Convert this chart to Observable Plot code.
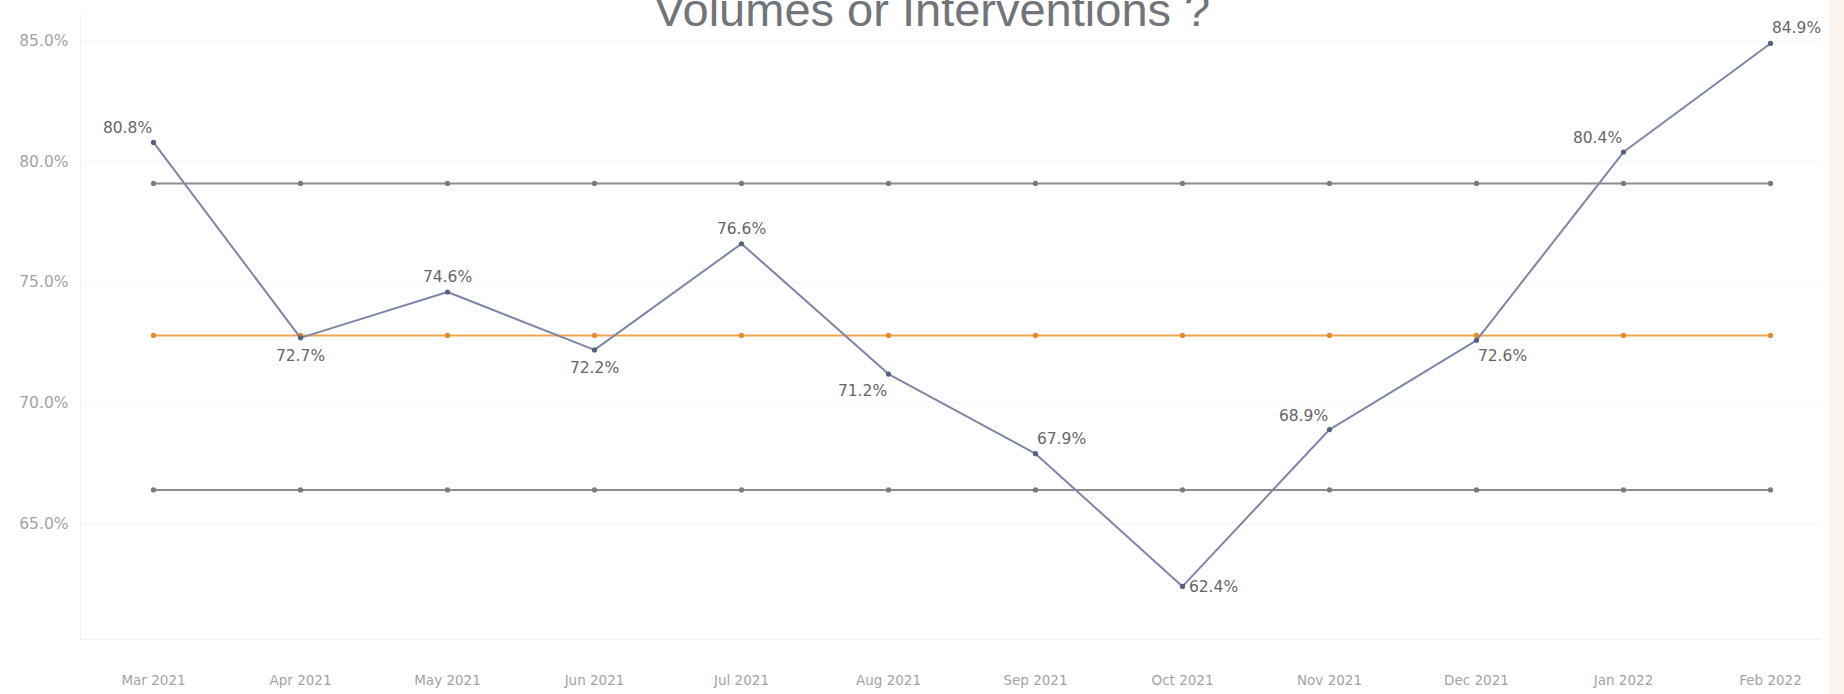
<!DOCTYPE html>
<html>
<head>
<meta charset="utf-8">
<script src="https://cdn.jsdelivr.net/npm/d3@7"></script>
<script src="https://cdn.jsdelivr.net/npm/@observablehq/plot@0.6"></script>
<style>
  html, body { margin: 0; padding: 0; background: #ffffff; overflow: hidden; }
  #wrap { position: relative; width: 1844px; height: 694px; }
  #title { position: absolute; top: -14px; left: 932px; transform: translateX(-50%); white-space: nowrap;
           font-family: "Liberation Sans", Arial, sans-serif; font-size: 47px; line-height: 1; color: #717478; }
  #strip { position: absolute; top: 0; right: 0; width: 15px; height: 694px; background: #fbf4ee; }
  #chart { position: absolute; top: 0; left: 0; }
</style>
</head>
<body>
<div id="wrap">
  <div id="chart"></div>
  <div id="title">Volumes or Interventions ?</div>
  <div id="strip"></div>
</div>
<script>
const months = ["Mar 2021","Apr 2021","May 2021","Jun 2021","Jul 2021","Aug 2021","Sep 2021","Oct 2021","Nov 2021","Dec 2021","Jan 2022","Feb 2022"];
const values = [80.8, 72.7, 74.6, 72.2, 76.6, 71.2, 67.9, 62.4, 68.9, 72.6, 80.4, 84.9];
const upperLimit = 79.1;
const meanLine = 72.8;
const lowerLimit = 66.4;
const yTicks = [65, 70, 75, 80, 85];
const labelPlacement = ["nw","s","n","s","n","sw","ne","e","nw","se","nw","ne"];

const offsets = {nw:[-26,-14], s:[0,18], n:[0,-15], sw:[-26,17], ne:[26,-15], e:[31,1], se:[26,16]};

const data = months.map((m, i) => ({month: m, value: values[i], place: labelPlacement[i]}));
const refs = [
  {v: upperLimit, color: "#8c8c8c", dot: "#7a7a7a"},
  {v: meanLine, color: "#f0a351", dot: "#e58a2e"},
  {v: lowerLimit, color: "#8c8c8c", dot: "#7a7a7a"}
];

const small = "'DejaVu Sans', Verdana, sans-serif";
const marks = [
  Plot.gridY(yTicks, {stroke: "#000", strokeOpacity: 0.035}),
  Plot.frame({stroke: "#000", strokeOpacity: 0.05, anchor: "left"}),
  Plot.frame({stroke: "#000", strokeOpacity: 0.05, anchor: "bottom"}),
  Plot.axisY(yTicks, {tickSize: 0, tickPadding: 12, tickFormat: d => d.toFixed(1) + "%", fontSize: 15.5, fill: "#a3a3a3", fontFamily: small}),
  Plot.axisX({tickSize: 0, tickPadding: 36, fontSize: 13.5, fill: "#a3a3a3", fontFamily: small})
];
for (const r of refs) {
  const rd = months.map(m => ({month: m, value: r.v}));
  marks.push(Plot.line(rd, {x: "month", y: "value", stroke: r.color, strokeWidth: 2}));
  marks.push(Plot.dot(rd, {x: "month", y: "value", fill: r.dot, r: 2.6}));
}
marks.push(Plot.line(data, {x: "month", y: "value", stroke: "#7c86a6", strokeWidth: 2}));
marks.push(Plot.dot(data, {x: "month", y: "value", fill: "#56607f", r: 2.6}));
for (const k of Object.keys(offsets)) {
  marks.push(Plot.text(data, {
    filter: d => d.place === k,
    x: "month", y: "value", text: d => d.value.toFixed(1) + "%",
    dx: offsets[k][0], dy: offsets[k][1], fontSize: 15.5, fill: "#666", fontFamily: small
  }));
}

const chart = Plot.plot({
  width: 1844,
  height: 694,
  marginLeft: 80,
  marginRight: 24,
  marginTop: 14,
  marginBottom: 55,
  style: {fontFamily: "'Liberation Sans', Arial, sans-serif", background: "transparent"},
  x: {type: "point", domain: months, range: [150, 1773], padding: 0, label: null},
  y: {domain: [60.2, 86.1], label: null},
  marks
});
document.getElementById("chart").appendChild(chart);
</script>
</body>
</html>
